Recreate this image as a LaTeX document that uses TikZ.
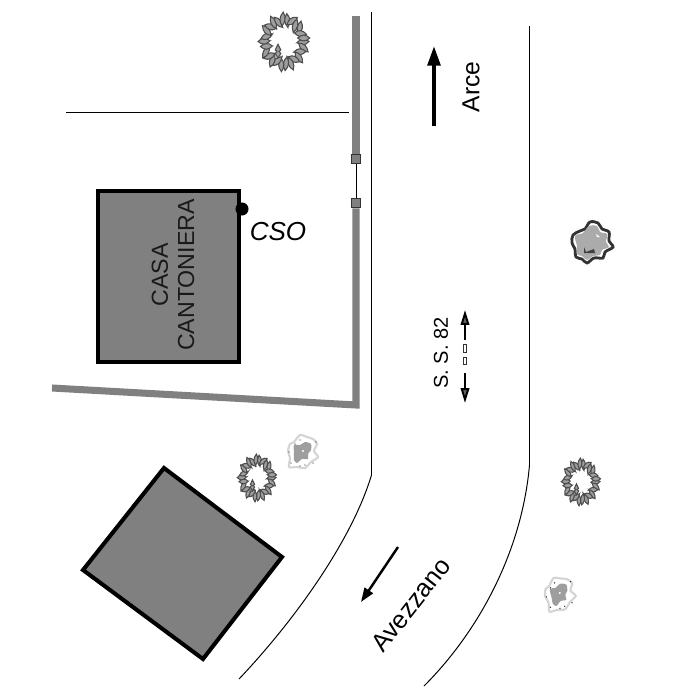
\documentclass[tikz,border=0pt]{standalone}
\usepackage{fontspec}
\setmainfont{Liberation Sans}
\usetikzlibrary{arrows.meta}
\definecolor{wallgray}{gray}{0.5}
\definecolor{leafgray}{gray}{0.62}
\tikzset{
	road/.style={black, line width=0.28pt},
	wall/.style={wallgray, line width=2pt, line cap=butt},
	house/.style={fill=wallgray, draw=black, line width=1.15pt, line join=miter},
	post/.style={draw=black!80, fill=wallgray, line width=0.3pt, minimum size=2.8pt, inner sep=0pt, rectangle},
	leaf/.style={draw=black!70, fill=leafgray, line width=0.3pt},
	bigarrow/.style={line width=1.1pt, -{Triangle[length=5.6pt, width=3.6pt]}},
	midarrow/.style={line width=0.7pt, -{Triangle[length=4pt, width=2.8pt]}},
	smallarrow/.style={black, line width=0.55pt, -{Triangle[length=4.2pt, width=2.4pt, fill=black!60]}},
	label/.style={inner sep=0pt, font=\fontsize{7}{7.4}\selectfont},
	pics/ringtree/.style={code={
		\foreach \a/\r/\t in {0/19/5,14/20/-25,28/18/30,42/20/-10,56/18/35,70/20/5,84/19/-15,98/20/10,112/18/-30,126/20/15,140/19/-20,154/20/30,168/18/-10,182/20/5,196/18/35,210/20/-15,224/19/30,238/20/-5,252/18/25,266/20/-10,280/19/15,294/20/-35,308/18/20,322/20/40,336/18/-30,350/20/-10}
			\path[leaf, shift={(\a:\r)}, rotate=-\a+\t] (-6,0) .. controls (-2,3.4) and (2,3.4) .. (6,0) .. controls (2,-3.4) and (-2,-3.4) .. cycle;
		\path[leaf, shift={(-6,8)}] (0,-6) -- (2.8,-1) -- (1,0) -- (2.8,2) -- (0,6) -- (-2.8,2) -- (-1,0) -- (-2.8,-1) -- cycle;
	}},
	pics/darkblob/.style={code={
		\draw[black!80, line width=0.8pt, fill=white] plot[smooth cycle, tension=0.6] coordinates {(-19,-8) (-12,-12) (-7,-14) (-2,-21) (6,-20) (10,-14) (17,-11) (17,-2) (21,4) (13,9) (11,15) (2,15) (-5,20) (-10,16) (-16,14) (-17,6) (-20,0)};
		\fill[black!33] plot[smooth cycle, tension=0.6] coordinates {(-17,-7) (-9,-10) (-3,-17) (5,-17) (8,-11) (15,-9) (14,-1) (17,4) (10,7) (8,12) (1,13) (-5,17) (-10,13) (-15,11) (-15,3)};
		\fill[black!75] (-8,4) -- (-6,9) -- (2,6) -- (3,10) -- (-8,10) -- cycle;
		\fill[white] (4,-9) -- (8,-6) -- (5,-6) -- cycle;
	}},
	pics/paleblob/.style={code={
		\draw[black!17, line width=0.6pt, fill=white] plot[smooth cycle, tension=0.45] coordinates {(-13,-8) (-9,-10) (-3,-17) (4,-15) (10,-13) (14,-8) (11,-1) (15,5) (8,10) (2,16) (-6,15) (-14,15) (-13,6) (-15,-1)};
		\fill[black!38] plot[smooth cycle, tension=0.4] coordinates {(-9,-7) (-3,-7) (2,-10) (8,-8) (8,-2) (5,2) (5,7) (-1,7) (-6,11) (-9,8) (-9,1)};
		\fill[white] (0,-1) circle (1.1);
		\foreach \p in {(-8,-8),(13,-10),(-14,0),(-12,11),(-3,14),(2,13),(10,11),(-3,-12)}
			\fill[black!85] \p circle (0.7);
	}}
}
\begin{document}
\begin{tikzpicture}[x=0.01cm, y=-0.01cm]
	\useasboundingbox (0,0) rectangle (700,700);

	%% Strada
	\draw[road] (371.5,12) -- (371.5,475) .. controls (352,540) and (295,620) .. (239,679);
	\draw[road] (529.5,26) -- (529.5,465) .. controls (522,550) and (480,630) .. (424,686);
	\draw[road] (66,112.5) -- (349,112.5);

	%% Muro
	\node[post] (postA) at (356,159) {};
	\node[post] (postB) at (356,203) {};
	\draw[road] (postA) -- (postB);
	\draw[wall] (356,16) -- (postA.north);
	\draw[wall, line join=miter] (postB.south) -- (356,405) -- (52,388);

	%% Case
	\node[house, minimum width=1.4cm, minimum height=1.7cm, inner sep=0pt, outer sep=0pt] (casa) at (168.5,276.5) {};
	\node[label, rotate=90, align=center, font=\fontsize{6.6}{7.4}\selectfont, text=black!90] (casaText) at (173,275) {CASA\\CANTONIERA};
	\draw[house] (164,468) -- (282,557) -- (203,659) -- (83,570) -- cycle;

	%% Punto
	\node[circle, fill=black, minimum size=3.7pt, inner sep=0pt] (cso) at (242,209) {};
	\node[label, font=\fontsize{7.4}{8}\selectfont\itshape] (csoText) at (278,232) {CSO};

	%% Direzioni
	\draw[bigarrow] (434,126) -- (434,46);
	\node[label, rotate=90] (arce) at (471,87) {Arce};
	\node[label, rotate=90, font=\fontsize{5.7}{6}\selectfont] (ss) at (441,353) {S. S. 82};
	\draw[smallarrow] (465,340) -- (465,310);
	\draw[smallarrow] (465,373) -- (465,403);
	\draw[black!80, line width=0.2pt, fill=white] (463.5,344) rectangle (466.5,352);
	\draw[black!80, line width=0.2pt, fill=white] (463.5,357) rectangle (466.5,364);
	\draw[midarrow] (398,547) -- (361,602);
	\node[label, rotate=52, font=\fontsize{7.2}{8}\selectfont] (avezzano) at (411,605) {Avezzano};

	%% Alberi
	\pic[yscale=1.15] at (284,42) {ringtree};
	\pic[xscale=0.76, yscale=0.92] at (257,478) {ringtree};
	\pic[xscale=0.76, yscale=0.92] at (581,482) {ringtree};
	\pic at (592,243) {darkblob};
	\pic at (303,452) {paleblob};
	\pic[rotate=12] at (560,594) {paleblob};
\end{tikzpicture}
\end{document}
